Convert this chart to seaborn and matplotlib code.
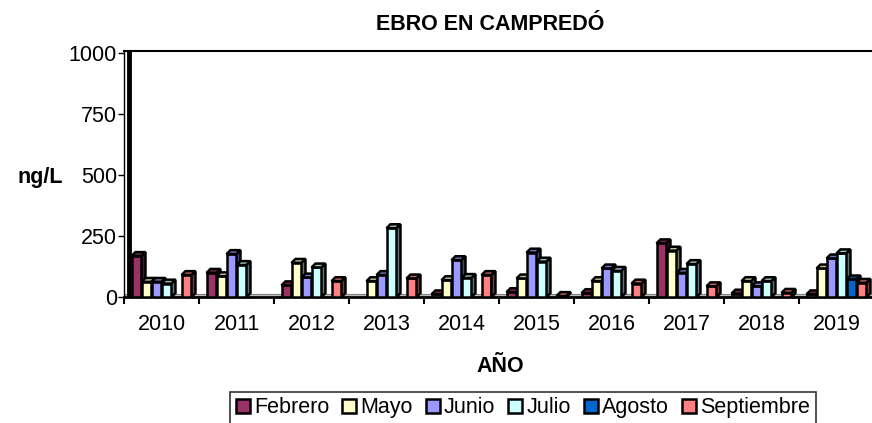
import numpy as np
import pandas as pd
import matplotlib
matplotlib.use("Agg")
import matplotlib.pyplot as plt
from matplotlib.patches import Polygon, Patch
import matplotlib.colors as mcolors
import seaborn as sns

# data (ng/L); None = no bar
years = ["2010", "2011", "2012", "2013", "2014", "2015", "2016", "2017", "2018", "2019"]
months = ["Febrero", "Mayo", "Junio", "Julio", "Agosto", "Septiembre"]
febrero = [168, 99, 48, None, 11, 20, 16, 220, 14, 11]
mayo = [62, 85, 140, 65, 69, 76, 65, 190, 65, 117]
junio = [62, 176, 80, 90, 151, 182, 117, 99, 44, 158]
julio = [55, 131, 121, 282, 78, 145, 107, 135, 65, 179]
agosto = [None, None, None, None, None, None, None, None, None, 72]
septiembre = [90, None, 65, 76, 90, 4, 55, 44, 17, 58]

colors = ["#993366", "#FFFFCC", "#9999FF", "#CCFFFF", "#0066CC", "#FF8080"]

rows = []
for m, vals in zip(months, [febrero, mayo, junio, julio, agosto, septiembre]):
    for y, v in zip(years, vals):
        rows.append({"year": y, "month": m, "value": v})
df = pd.DataFrame(rows).dropna()

sns.set_style("white")
plt.rcParams["font.family"] = ["Liberation Sans", "DejaVu Sans"]
plt.rcParams["text.color"] = "black"
plt.rcParams["xtick.color"] = "black"
plt.rcParams["ytick.color"] = "black"
plt.rcParams["axes.labelcolor"] = "black"
FS = 15.5

fig = plt.figure(figsize=(8.72, 4.23), dpi=100)
ax = fig.add_axes([124 / 872, 126 / 423, 750 / 872, 246 / 423])

sns.barplot(data=df, x="year", y="value", hue="month", order=years,
            hue_order=months, palette=dict(zip(months, colors)),
            width=0.8, edgecolor="black", linewidth=1.8, saturation=1,
            legend=False, ax=ax)

ax.set_xlim(-0.5, len(years) - 0.5)
ax.set_ylim(0, 1008)

# fake 3D depth, in data units (~4 px)
dx = 0.053
dy = 16

bars = sorted([p for p in ax.patches if p.get_height() > 0], key=lambda p: p.get_x())
for i, p in enumerate(bars):
    x0 = p.get_x()
    w = p.get_width()
    h = p.get_height()
    x1 = x0 + w
    fc = np.array(mcolors.to_rgb(p.get_facecolor()))
    z = 3 + i * 0.01
    p.set_zorder(z)
    top = Polygon([(x0, h), (x0 + dx, h + dy), (x1 + dx, h + dy), (x1, h)],
                  closed=True, facecolor=fc * 0.75, edgecolor="black", linewidth=1.8, zorder=z)
    side = Polygon([(x1, 0), (x1 + dx, dy), (x1 + dx, h + dy), (x1, h)],
                   closed=True, facecolor=fc * 0.45, edgecolor="black", linewidth=1.8, zorder=z)
    ax.add_patch(top)
    ax.add_patch(side)

# floor and back wall
ax.axhspan(0, 14, facecolor="#c0c0c0", edgecolor="#808080", linewidth=0.8, zorder=1)
ax.axvline(-0.5 + 0.06, ymin=0, ymax=1, color="black", linewidth=3.5, zorder=2)

ax.spines["right"].set_visible(False)
ax.spines["left"].set_linewidth(1)
ax.spines["bottom"].set_linewidth(2)
ax.spines["top"].set_linewidth(1.5)
for s in ["left", "bottom", "top"]:
    ax.spines[s].set_color("black")

ax.set_yticks([0, 250, 500, 750, 1000])
ax.tick_params(axis="y", direction="out", length=4, width=1, color="black",
               labelsize=FS, pad=1, left=True)
ax.set_xticks(range(len(years)))
ax.set_xticklabels(years)
ax.set_xticks(np.arange(-0.5, len(years), 1), minor=True)
ax.tick_params(axis="x", which="major", length=0, labelsize=FS, pad=12)
ax.tick_params(axis="x", which="minor", direction="out", length=5, width=1.5,
               color="black", bottom=True)
ax.set_xlabel("")
ax.set_ylabel("")

fig.text(490 / 872, 1 - 25 / 423, "EBRO EN CAMPREDÓ", ha="center", va="center",
         fontsize=FS, fontweight="bold")
fig.text(40 / 872, 1 - 177 / 423, "ng/L", ha="center", va="center",
         fontsize=FS, fontweight="bold")
fig.text(500 / 872, 1 - 366 / 423, "AÑO", ha="center", va="center",
         fontsize=FS, fontweight="bold")

handles = [Patch(facecolor=c, edgecolor="black", linewidth=1.8) for c in colors]
leg = fig.legend(handles, months, loc="upper center", bbox_to_anchor=(523 / 872, 31 / 423),
                 ncol=6, fontsize=FS, frameon=True, fancybox=False, handlelength=0.65,
                 handleheight=0.65, handletextpad=0.2, columnspacing=0.6,
                 borderpad=0.25, borderaxespad=0)
leg.get_frame().set_edgecolor("black")
leg.get_frame().set_linewidth(1.2)

fig.savefig("out.png", dpi=100)
